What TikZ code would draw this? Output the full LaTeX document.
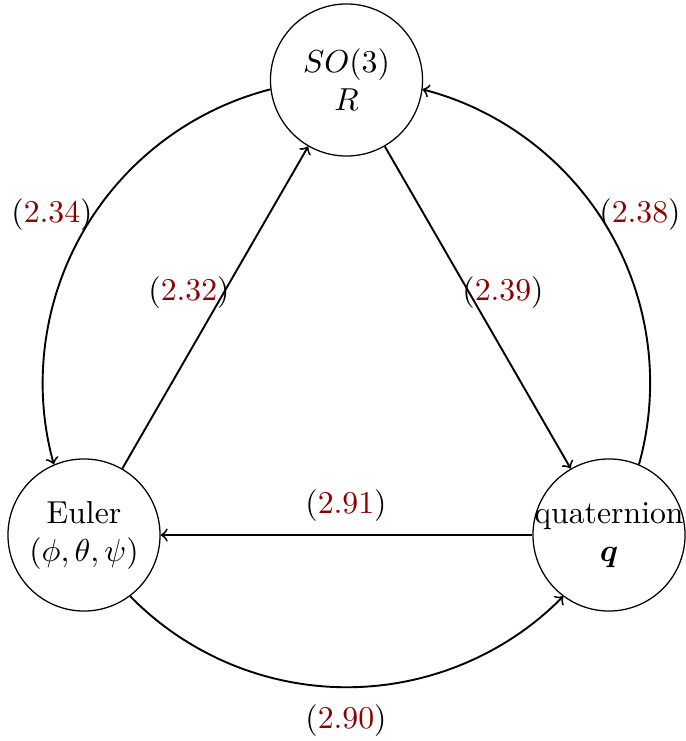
\documentclass[tikz,border=0pt]{standalone}
\usepackage{bm}
\definecolor{eqred}{RGB}{139,0,0}
\begin{document}
\begin{tikzpicture}[x=0.315pt,y=0.315pt,
  state/.style={circle,draw,thin,minimum size=47.9pt,inner sep=0pt,align=center},
  conn/.style={->,semithick},
  eqlabel/.style={inner sep=0pt}]
\useasboundingbox (0,0) rectangle (685,-741);
\node[state] (top) at (346.5,-80) {$SO(3)$\\$R$};
\node[state] (left) at (84,-535) {Euler\\$(\phi,\theta,\psi)$};
\node[state] (right) at (609,-535) {\makebox[0pt][c]{quaternion}\\$\bm{q}$};
% straight connectors
\draw[conn] (left) -- (top);
\draw[conn] (top) -- (right);
\draw[conn] (right) -- (left);
% arcs on the circumscribed circle
\draw[conn] (top.187.2) arc[start angle=104.4,end angle=195.6,radius=303.1];
\draw[conn] (right.67.2) arc[start angle=344.4,end angle=435.6,radius=303.1];
\draw[conn] (left.307.2) arc[start angle=224.4,end angle=315.6,radius=303.1];
% labels
\node[eqlabel] (l234) at (52,-215) {(\textcolor{eqred}{2.34})};
\node[eqlabel] (l238) at (640,-215) {(\textcolor{eqred}{2.38})};
\node[eqlabel] (l232) at (189,-293) {(\textcolor{eqred}{2.32})};
\node[eqlabel] (l239) at (503,-293) {(\textcolor{eqred}{2.39})};
\node[eqlabel] (l291) at (346,-506) {(\textcolor{eqred}{2.91})};
\node[eqlabel] (l290) at (346,-721) {(\textcolor{eqred}{2.90})};
\end{tikzpicture}
\end{document}
